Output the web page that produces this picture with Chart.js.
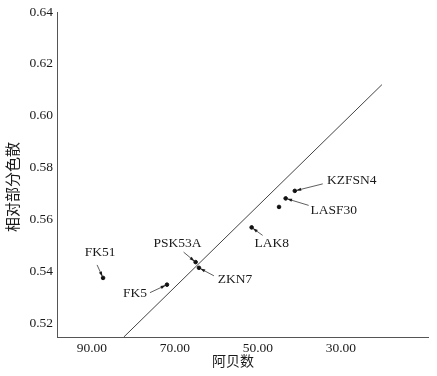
<!DOCTYPE html>
<html>
<head>
<meta charset="utf-8">
<script src="https://cdn.jsdelivr.net/npm/chart.js@4.4.1/dist/chart.umd.min.js"></script>
<style>
  html, body { margin: 0; padding: 0; background: #fff; }
  #wrap { width: 437px; height: 376px; }
</style>
</head>
<body>
<div id="wrap"><canvas id="chartGlass"></canvas></div>
<script>
  // glass names, abbe numbers and relative partial dispersion
  const glassNames = ['FK51', 'FK5', 'PSK53A', 'ZKN7', 'LAK8', 'LASF30', '', 'KZFSN4'];
  const abbeValues = [87.3, 71.9, 65.0, 64.2, 51.5, 43.3, 44.9, 41.1];
  const pgfValues = [0.5374, 0.5348, 0.5435, 0.5413, 0.5569, 0.5681, 0.5648, 0.5710];

  // normal line end points
  const lineAbbe = [82.3, 20.1];
  const linePgf = [0.5146, 0.6120];

  const xTicks = [90, 70, 50, 30];
  const yTicks = [0.52, 0.54, 0.56, 0.58, 0.60, 0.62, 0.64];

  const xTitle = '阿贝数';
  const yTitle = '相对部分色散';

  // label placement (pixel offsets from the point): text centre and arrow tail
  const labelOffsets = {
    'FK51':   { tx: -3,   ty: -25, ax: -6,  ay: -13 },
    'FK5':    { tx: -32,  ty: 9,   ax: -17, ay: 8 },
    'PSK53A': { tx: -18,  ty: -19, ax: -12, ay: -10 },
    'ZKN7':   { tx: 36,   ty: 12,  ax: 15,  ay: 8 },
    'LAK8':   { tx: 20,   ty: 16,  ax: 11,  ay: 8 },
    'LASF30': { tx: 48,   ty: 12,  ax: 23,  ay: 7 },
    'KZFSN4': { tx: 57,   ty: -10, ax: 28,  ay: -7 }
  };

  const serif = "'Liberation Serif', 'Times New Roman', serif";
  const cjk = "'Noto Sans CJK SC', sans-serif";

  const labelPlugin = {
    id: 'glassLabels',
    afterDatasetsDraw(chart) {
      const ctx = chart.ctx;
      const xs = chart.scales.x, ys = chart.scales.y;
      const area = chart.chartArea;
      ctx.save();
      ctx.font = '13.5px ' + serif;
      ctx.fillStyle = '#1a1a1a';
      ctx.strokeStyle = '#1a1a1a';
      ctx.textAlign = 'center';
      ctx.textBaseline = 'middle';
      glassNames.forEach((name, i) => {
        const o = labelOffsets[name];
        if (!o) return;
        const px = xs.getPixelForValue(abbeValues[i]);
        const py = ys.getPixelForValue(pgfValues[i]);
        ctx.fillText(name, px + o.tx, py + o.ty);
        // arrow
        const x0 = px + o.ax, y0 = py + o.ay;
        const ang = Math.atan2(py - y0, px - x0);
        const x1 = px - Math.cos(ang) * 1.5, y1 = py - Math.sin(ang) * 1.5;
        ctx.lineWidth = 0.7;
        ctx.beginPath();
        ctx.moveTo(x0, y0);
        ctx.lineTo(x1, y1);
        ctx.stroke();
        const hl = 5, hw = 1.6;
        ctx.beginPath();
        ctx.moveTo(x1, y1);
        ctx.lineTo(x1 - Math.cos(ang) * hl - Math.sin(ang) * hw, y1 - Math.sin(ang) * hl + Math.cos(ang) * hw);
        ctx.lineTo(x1 - Math.cos(ang) * hl + Math.sin(ang) * hw, y1 - Math.sin(ang) * hl - Math.cos(ang) * hw);
        ctx.closePath();
        ctx.fill();
      });

      // axis titles (placed slightly off-centre as in the original)
      ctx.font = '14px ' + cjk;
      ctx.fillText(xTitle, area.left + 176, 361);
      ctx.translate(12, area.top + 175);
      ctx.rotate(-Math.PI / 2);
      ctx.font = '15px ' + cjk;
      ctx.fillText(yTitle, 0, 0);
      ctx.restore();
    }
  };

  const ctxGlass = document.getElementById('chartGlass').getContext('2d');
  new Chart(ctxGlass, {
    type: 'scatter',
    data: {
      datasets: [{
        label: '玻璃',
        data: abbeValues.map((v, i) => ({ x: v, y: pgfValues[i] })),
        backgroundColor: '#111',
        borderColor: '#111',
        pointRadius: 1.8,
        pointHoverRadius: 1.8
      }, {
        label: '正常线',
        data: lineAbbe.map((v, i) => ({ x: v, y: linePgf[i] })),
        showLine: true,
        borderColor: '#444',
        borderWidth: 1,
        pointRadius: 0,
        fill: false
      }]
    },
    options: {
      responsive: true,
      maintainAspectRatio: false,
      animation: false,
      layout: { padding: { top: 12, right: 9, left: 0, bottom: 0 } },
      plugins: {
        legend: { display: false },
        tooltip: { enabled: false }
      },
      scales: {
        x: {
          type: 'linear',
          reverse: true,
          min: 9,
          max: 98.4,
          grid: { display: false, drawTicks: false },
          border: { display: true, color: '#555', width: 1 },
          afterBuildTicks: s => { s.ticks = xTicks.map(v => ({ value: v })); },
          afterFit: s => { s.height = 39; },
          ticks: {
            padding: 3,
            color: '#1a1a1a',
            font: { family: serif, size: 13.5 },
            callback: v => Number(v).toFixed(2)
          }
        },
        y: {
          type: 'linear',
          min: 0.5146,
          max: 0.64,
          grid: { display: false, drawTicks: false },
          border: { display: true, color: '#555', width: 1 },
          afterBuildTicks: s => { s.ticks = yTicks.map(v => ({ value: v })); },
          afterFit: s => { s.width = 57; },
          ticks: {
            padding: 4,
            color: '#1a1a1a',
            font: { family: serif, size: 13.5 },
            callback: v => Number(v).toFixed(2)
          }
        }
      }
    },
    plugins: [labelPlugin]
  });
</script>
</body>
</html>
